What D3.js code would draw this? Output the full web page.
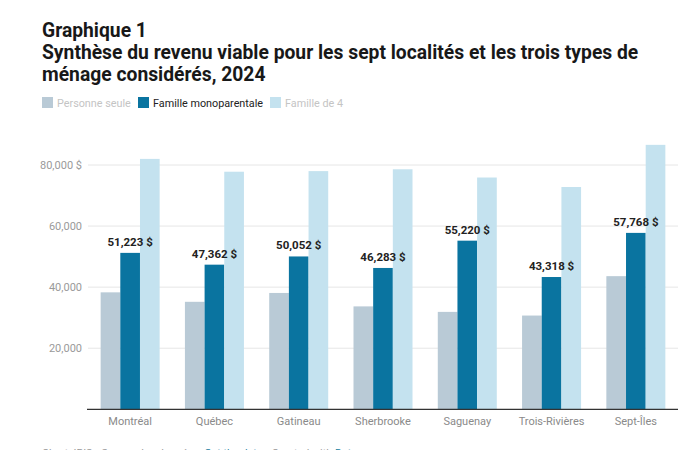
<!DOCTYPE html>
<html>
<head>
<meta charset="utf-8">
<script src="https://cdn.jsdelivr.net/npm/d3@7"></script>
<style>
  html, body { margin: 0; padding: 0; background: #fff; }
  svg { display: block; font-family: Roboto, "Noto Sans", sans-serif; }
</style>
</head>
<body>
<svg id="chart" width="700" height="450"></svg>
<script>
const categories = ["Montréal", "Québec", "Gatineau", "Sherbrooke", "Saguenay", "Trois-Rivières", "Sept-Îles"];
const seriesNames = ["Personne seule", "Famille monoparentale", "Famille de 4"];
const personneSeule = [38300, 35200, 38100, 33700, 31900, 30700, 43600];
const familleMono = [51223, 47362, 50052, 46283, 55220, 43318, 57768];
const famille4 = [82000, 77800, 78000, 78600, 75900, 72800, 86600];
const yTicks = [20000, 40000, 60000, 80000];
const yTickLabels = ["20,000", "40,000", "60,000", "80,000 $"];
const titleLines = ["Graphique 1", "Synthèse du revenu viable pour les sept localités et les trois types de", "ménage considérés, 2024"];
const footerParts = [
  { t: "Chart: IRIS • Source des données: ", link: false },
  { t: "Get the data", link: true },
  { t: " • Created with ", link: false },
  { t: "Datawrapper", link: true }
];

const colors = ["#b9cad6", "#0a74a0", "#c4e2ef"];
const seriesValues = [personneSeule, familleMono, famille4];

const svg = d3.select("#chart");

// Title
const title = svg.append("g");
titleLines.forEach((t, i) => {
  title.append("text")
    .attr("x", 42).attr("y", 37 + i * 22)
    .attr("font-size", 19.3).attr("font-weight", 700)
    .attr("fill", "#181818")
    .text(t);
});

// Legend
const legendX = [42, 138, 270];
const legendG = svg.append("g");
seriesNames.forEach((n, i) => {
  legendG.append("rect")
    .attr("x", legendX[i]).attr("y", 97)
    .attr("width", 11).attr("height", 11)
    .attr("fill", colors[i]);
  legendG.append("text")
    .attr("x", legendX[i] + 15).attr("y", 106.5)
    .attr("font-size", 10.8)
    .attr("fill", i === 1 ? "#222" : "#c4c4c4")
    .text(n);
});

// Scales
const x0 = d3.scaleBand().domain(categories).range([88, 678]).paddingInner(0.3).paddingOuter(0.15);
const x1 = d3.scaleBand().domain(seriesNames).range([0, x0.bandwidth()]);
const y = d3.scaleLinear().domain([0, 80000]).range([409.3, 165]);

// Gridlines
const grid = svg.append("g");
grid.selectAll("line").data(yTicks).join("line")
  .attr("x1", 88).attr("x2", 678)
  .attr("y1", d => y(d)).attr("y2", d => y(d))
  .attr("stroke", "#e6e6e6").attr("stroke-width", 1);

// Y labels
const yAxis = d3.axisLeft(y).tickValues(yTicks).tickSize(0).tickPadding(0)
  .tickFormat((d, i) => yTickLabels[i]);
const yg = svg.append("g").attr("transform", "translate(82,0)").call(yAxis);
yg.select(".domain").remove();
yg.selectAll("text").attr("font-size", 11).attr("fill", "#9a9a9a")
  .attr("font-family", "Roboto, sans-serif");

// Bars
const groups = svg.append("g").selectAll("g").data(categories).join("g")
  .attr("transform", d => `translate(${x0(d)},0)`);
groups.selectAll("rect")
  .data((c, ci) => seriesNames.map((s, si) => ({ s, si, v: seriesValues[si][ci] })))
  .join("rect")
  .attr("x", d => x1(d.s))
  .attr("width", x1.bandwidth())
  .attr("y", d => y(d.v))
  .attr("height", d => y(0) - y(d.v))
  .attr("fill", d => colors[d.si]);

// Value labels for Famille monoparentale
const fmt = d3.format(",");
svg.append("g").selectAll("text").data(categories).join("text")
  .attr("x", (c) => x0(c) + x1(seriesNames[1]) + x1.bandwidth() / 2)
  .attr("y", (c, i) => y(familleMono[i]) - 7)
  .attr("text-anchor", "middle")
  .attr("font-size", 11.5).attr("font-weight", 700).attr("fill", "#222")
  .text((c, i) => fmt(familleMono[i]) + " $");

// X axis
const xAxis = d3.axisBottom(x0).tickSize(0).tickPadding(8);
const xg = svg.append("g").attr("transform", `translate(0,${y(0)})`).call(xAxis);
xg.select(".domain").remove();
xg.selectAll("text").attr("font-size", 11).attr("fill", "#8a8a8a")
  .attr("font-family", "Roboto, sans-serif");
svg.append("line")
  .attr("x1", 87).attr("x2", 678)
  .attr("y1", y(0)).attr("y2", y(0))
  .attr("stroke", "#333").attr("stroke-width", 1.3);

// Footer (partly cut off at the bottom edge, as in the reference)
const footer = svg.append("text")
  .attr("x", 42).attr("y", 456.5)
  .attr("font-size", 10.8).attr("fill", "#9a9a9a");
footer.selectAll("tspan").data(footerParts).join("tspan")
  .attr("fill", d => d.link ? "#1d81a2" : "#9a9a9a")
  .text(d => d.t);
</script>
</body>
</html>
